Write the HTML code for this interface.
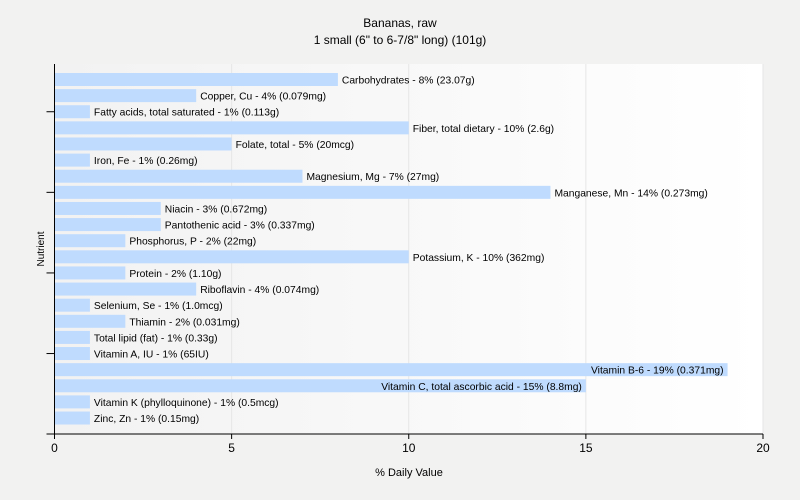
<!DOCTYPE html>
<html><head><meta charset="utf-8"><style>
html,body{margin:0;background:#f2f2f1;font-family:"Liberation Sans",sans-serif;overflow:hidden;}
svg{display:block}
svg text{font-family:"Liberation Sans",sans-serif;fill:#000}
</style></head><body>
<svg id="chart" width="800" height="500" xmlns="http://www.w3.org/2000/svg">
<defs><linearGradient id="bg" x1="0" x2="1" y1="0" y2="0"><stop offset="0" stop-color="#f2f2f2"/><stop offset="1" stop-color="#ffffff"/></linearGradient></defs>
<text x="400" y="27" font-size="12" text-anchor="middle">Bananas, raw</text>
<text x="400" y="44" font-size="12" text-anchor="middle">1 small (6" to 6-7/8" long) (101g)</text>
<rect x="55" y="64" width="708" height="370" fill="url(#bg)"/>
<g id="grid"></g><g id="bars"></g><g id="axes"></g>
<text x="409" y="476" font-size="11" text-anchor="middle">% Daily Value</text>
<text x="44" y="249" font-size="10" text-anchor="middle" transform="rotate(-90 44 249)">Nutrient</text>
</svg>
<script>
const categories=["Carbohydrates","Copper, Cu","Fatty acids, total saturated","Fiber, total dietary","Folate, total","Iron, Fe","Magnesium, Mg","Manganese, Mn","Niacin","Pantothenic acid","Phosphorus, P","Potassium, K","Protein","Riboflavin","Selenium, Se","Thiamin","Total lipid (fat)","Vitamin A, IU","Vitamin B-6","Vitamin C, total ascorbic acid","Vitamin K (phylloquinone)","Zinc, Zn"];
const values=[8,4,1,10,5,1,7,14,3,3,2,10,2,4,1,2,1,1,19,15,1,1];
const amounts=["23.07g","0.079mg","0.113g","2.6g","20mcg","0.26mg","27mg","0.273mg","0.672mg","0.337mg","22mg","362mg","1.10g","0.074mg","1.0mcg","0.031mg","0.33g","65IU","0.371mg","8.8mg","0.5mcg","0.15mg"];
const xTicks=[0,5,10,15,20];
const NS="http://www.w3.org/2000/svg";
const x0=54.5,x1=763,yTop=64,yBot=434,xMax=20;
const xs=v=>x0+(x1-x0)*v/xMax;
const rowH=16.12,firstC=79.5;
const yc=i=>firstC+i*rowH;
function mk(t,a){const e=document.createElementNS(NS,t);for(const k in a)e.setAttribute(k,a[k]);return e;}
const grid=document.getElementById('grid'),bars=document.getElementById('bars'),axes=document.getElementById('axes');
xTicks.forEach(t=>{
  if(t>0){const g=mk('line',{x1:xs(t),x2:xs(t),y1:yTop,y2:yBot,stroke:'#e6e6e6'});
  
  
  grid.appendChild(g);}
  const tk=mk('line',{x1:xs(t),x2:xs(t),y1:yBot,y2:yBot+5,stroke:'#000'});
  
  
  axes.appendChild(tk);
  const lb=mk('text',{x:xs(t),y:yBot+18,'font-size':12,'text-anchor':'middle'});
  lb.textContent=t;
  
  
  axes.appendChild(lb);
});
categories.forEach((c,i)=>{
  const r=mk('rect',{x:x0,y:yc(i)-6.5,width:xs(values[i])-x0,height:13,fill:'#bfdbfe'});
  
  
  bars.appendChild(r);
  const t=mk('text',{x:xs(values[i])+4,y:yc(i)+4,'font-size':10.3});
  t.textContent=c+' - '+values[i]+'% ('+amounts[i]+')';
  
  
  bars.appendChild(t);
  const w=t.getComputedTextLength();
  if(xs(values[i])+4+w>x1){t.setAttribute('x',xs(values[i])-4);t.setAttribute('text-anchor','end');}
});
[2,7,12,17].forEach(i=>{
  const tk=mk('line',{x1:x0-8,x2:x0,y1:yc(i),y2:yc(i),stroke:'#000'});
  
  
  axes.appendChild(tk);
});
const ya=mk('line',{x1:x0,x2:x0,y1:yTop,y2:yBot,stroke:'#000'});


axes.appendChild(ya);
const xa=mk('line',{x1:x0-8,x2:x1,y1:yBot,y2:yBot,stroke:'#000'});


axes.appendChild(xa);
</script>
</body></html>
